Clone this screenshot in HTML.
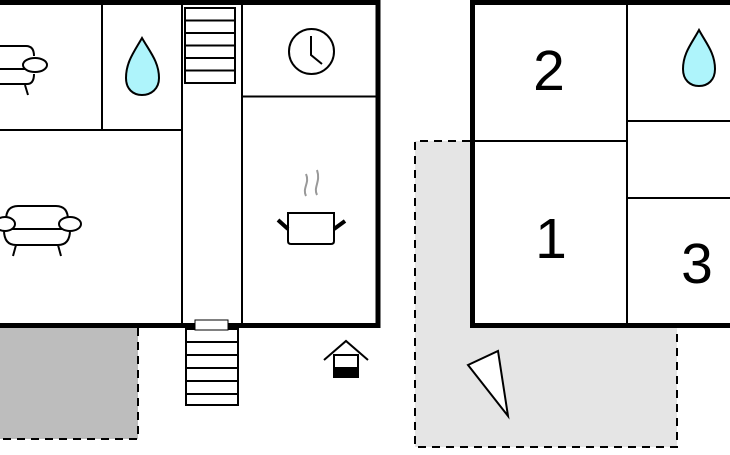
<!DOCTYPE html>
<html><head><meta charset="utf-8"><style>html,body{margin:0;padding:0;background:#fff;overflow:hidden}</style></head>
<body>
<svg width="730" height="450" viewBox="0 0 730 450" xmlns="http://www.w3.org/2000/svg">
<rect x="0" y="328" width="138" height="111" fill="#bdbdbd"/>
<path d="M138 328 V439 H0" fill="none" stroke="#000" stroke-width="2" stroke-dasharray="8,6"/>
<path d="M415 141 H470 V328 H677 V447 H415 Z" fill="#e5e5e5"/>
<path d="M470 141 H415 V447 H677 V328" fill="none" stroke="#000" stroke-width="2" stroke-dasharray="8,6"/>
<g stroke="#000" fill="none">
<path d="M0 2.5 H378 V325.5 H0" stroke-width="5"/>
<line x1="102" y1="0" x2="102" y2="130" stroke-width="2"/>
<line x1="0" y1="130" x2="182" y2="130" stroke-width="2"/>
<line x1="182" y1="0" x2="182" y2="325" stroke-width="2"/>
<line x1="242" y1="0" x2="242" y2="325" stroke-width="2"/>
<line x1="242" y1="96.5" x2="376" y2="96.5" stroke-width="2"/>
<rect x="185" y="8" width="50" height="75" stroke-width="2"/>
<path d="M185 20.5H235M185 33H235M185 45.5H235M185 58H235M185 70.5H235" stroke-width="2"/>
<rect x="186" y="329" width="52" height="76" stroke-width="2"/>
<path d="M186 342H238M186 355H238M186 368H238M186 381H238M186 394H238" stroke-width="2"/>
</g>
<rect x="195" y="320" width="33" height="10" fill="#fff" stroke="#000" stroke-width="1"/>
<path d="M142 38 C150 52 159 62 159 78 C159 89 151 95 142 95 C133 95 126 89 126 78 C126 62 134 52 142 38 Z" fill="#aef4fb" stroke="#000" stroke-width="2"/>
<circle cx="311.5" cy="51.5" r="22.5" fill="none" stroke="#000" stroke-width="2"/>
<path d="M311 36 V55 L322 64" fill="none" stroke="#000" stroke-width="2"/>
<path d="M306 196 C302 188 310 183 306 174 M317 195 C313 187 321 182 317 170" fill="none" stroke="#999" stroke-width="2"/>
<path d="M288 213 H334 V241 Q334 244 331 244 H291 Q288 244 288 241 Z" fill="#fff" stroke="#000" stroke-width="2"/>
<path d="M288 229 L278 220 M334 229 L345 221" stroke="#000" stroke-width="4"/>
<g fill="none" stroke="#000" stroke-width="2">
<path d="M0 46 H26 Q34 46 34 56 M0 69 H26 M0 84 H27 Q34 84 34 74 M25 85 L28 95"/>
<ellipse cx="35" cy="65" rx="12" ry="7" fill="#fff"/>
<path d="M6 220 Q6 206 18 206 H56 Q68 206 68 220 M6 229 H68 M4 230 Q4 245 16 245 H58 Q70 245 70 230 M16 245 L13 256 M58 245 L61 256"/>
<ellipse cx="5" cy="224" rx="10" ry="7" fill="#fff"/>
<ellipse cx="70" cy="224" rx="11" ry="7" fill="#fff"/>
</g>
<path d="M324 360 L346 341 L368 360" fill="none" stroke="#000" stroke-width="2"/>
<rect x="334" y="355" width="24" height="22" fill="#fff" stroke="#000" stroke-width="2"/>
<rect x="334" y="367" width="24" height="10" fill="#000"/>
<g stroke="#000" fill="none">
<path d="M730 2.5 H472.5 V325.5 H730" stroke-width="5"/>
<line x1="627" y1="0" x2="627" y2="325" stroke-width="2"/>
<line x1="472" y1="141" x2="627" y2="141" stroke-width="2"/>
<line x1="627" y1="121" x2="730" y2="121" stroke-width="2"/>
<line x1="627" y1="198" x2="730" y2="198" stroke-width="2"/>
</g>
<path d="M699 30 C706 43 715 53 715 69 C715 80 708 86 699 86 C690 86 683 80 683 69 C683 53 692 43 699 30 Z" fill="#aef4fb" stroke="#000" stroke-width="2"/>
<g font-family="Liberation Sans, sans-serif" font-size="57" text-anchor="middle" fill="#000">
<text x="549" y="90">2</text>
<text x="551" y="258">1</text>
<text x="697" y="283">3</text>
</g>
<polygon points="468,365 498,351 508,416" fill="#fff" stroke="#000" stroke-width="2"/>
</svg>
</body></html>
